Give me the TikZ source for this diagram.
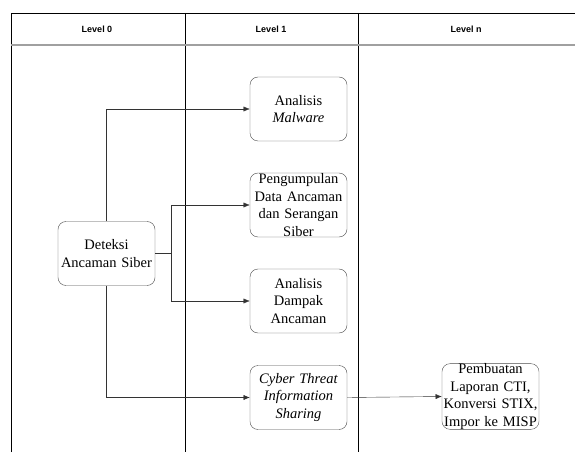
\documentclass[tikz,border=0pt]{standalone}
\usepackage{fontspec}
\setmainfont{Liberation Serif}
\setsansfont{Liberation Sans}
\usetikzlibrary{arrows.meta,positioning}
\definecolor{linea}{HTML}{333333}
\definecolor{graya}{HTML}{A0A0A0}
\tikzset{box/.style={draw=black!70,rounded corners=8pt,thin,align=center,minimum height=64pt,minimum width=97pt,text width=97pt,inner sep=0pt,font=\fontsize{14.5}{17.5}\selectfont},arrow/.style={-{Latex[length=2.2mm,width=1.8mm]},thin,draw=linea},lane/.style={draw=black,thin},head/.style={font=\sffamily\bfseries\fontsize{9}{10}\selectfont}}
\begin{document}
\begin{tikzpicture}[x=1pt,y=-1pt]
\useasboundingbox (0,0) rectangle (575,454);
% lanes
\draw[lane] (11,452) -- (11,13) -- (575,13);
\draw[lane] (185,13) -- (185,452);
\draw[lane] (358,13) -- (358,452);
\draw[draw=graya,line width=1.3pt] (11,45) -- (575,45);
\node[head] (lv0) at (97,29) {Level 0};
\node[head] (lv1) at (271,29) {Level 1};
\node[head] (lvn) at (466,29) {Level n};
% boxes
\node[box] (det) at (106.5,253.5) {Deteksi\\Ancaman Siber};
\node[box] (mal) at (298.5,109) {Analisis\\\textit{Malware}};
\node[box] (peng) at (298.5,205) {Pengumpulan\\Data Ancaman\\dan Serangan\\Siber};
\node[box] (damp) at (298.5,301) {Analisis\\Dampak\\Ancaman};
\node[box] (cti) at (298.5,397.5) {\textit{Cyber Threat}\\\textit{Information}\\\textit{Sharing}};
\node[box] (lap) at (490.5,396.5) {Pembuatan\\Laporan CTI,\\Konversi STIX,\\Impor ke MISP};
% connectors
\coordinate (split) at (171,253.5);
\draw[arrow] (det.north) |- (mal.west);
\draw[arrow] (det.east) -- (split) |- (peng.west);
\draw[arrow] (split) |- (damp.west);
\draw[arrow] (det.south) |- (cti.west);
\draw[arrow] (cti.east) -- (lap.west);
\end{tikzpicture}
\end{document}
